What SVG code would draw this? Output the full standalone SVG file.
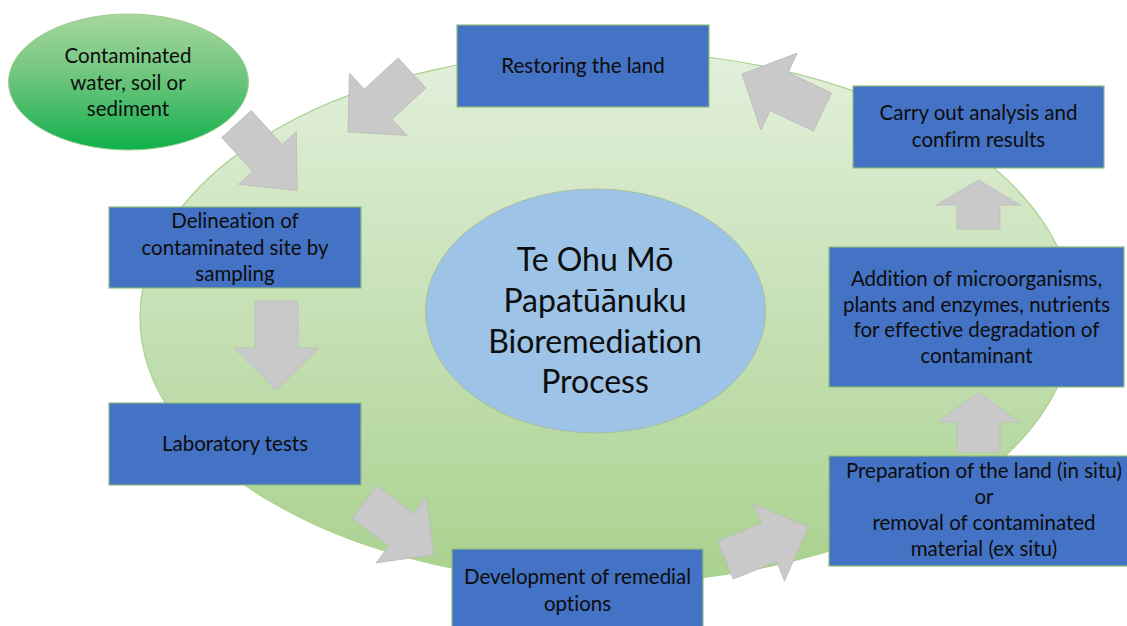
<svg xmlns="http://www.w3.org/2000/svg" width="1127" height="626" viewBox="0 0 1127 626">
<defs>
<linearGradient id="gBig" x1="0" y1="0" x2="0" y2="1">
<stop offset="0" stop-color="#e3f0dc"/>
<stop offset="1" stop-color="#a9d18e"/>
</linearGradient>
<linearGradient id="gGreen" x1="0" y1="0" x2="0" y2="1">
<stop offset="0" stop-color="#a9d69e"/>
<stop offset="0.5" stop-color="#68c47a"/>
<stop offset="1" stop-color="#0fb04c"/>
</linearGradient>
<style>
.box{fill:#4472c4;stroke:#8fbf78;stroke-width:1.2}
.arr{fill:#c9c9c9;stroke:#bcbcbc;stroke-width:0.8}
.t{font-family:Lato,"Open Sans",sans-serif;font-size:20.5px;fill:#0d0d0d;text-anchor:middle;font-variant-ligatures:none;font-feature-settings:"liga" 0}
.title{font-family:Lato,"Open Sans",sans-serif;font-size:32px;fill:#0d0d0d;text-anchor:middle;font-variant-ligatures:none;font-feature-settings:"liga" 0}
</style>
</defs>
<rect width="1127" height="626" fill="#ffffff"/>
<g id="background">
<ellipse cx="607" cy="317" rx="467" ry="266" fill="url(#gBig)" stroke="#a9d18e" stroke-width="1.2"/>
</g>
<g id="center">
<ellipse cx="595.5" cy="311" rx="170" ry="122" fill="#9dc3e6" stroke="#a8bfa0" stroke-width="1"/>
<text class="title" x="595" y="271">Te Ohu Mō</text>
<text class="title" x="595" y="312">Papatūānuku</text>
<text class="title" x="595" y="353">Bioremediation</text>
<text class="title" x="595" y="393">Process</text>
</g>
<g id="connectors">
<path class="arr" transform="translate(236.5,124) rotate(47.7)" d="M0,-20 H46 V-39 L90,0 L46,39 V20 H0Z"/>
<path class="arr" transform="translate(412,73) rotate(137.3)" d="M0,-20.5 H46 V-42.5 L87,0 L46,42.5 V20.5 H0Z"/>
<path class="arr" transform="translate(276.5,301) rotate(90)" d="M0,-21.5 H47 V-42.5 L89,0 L47,42.5 V21.5 H0Z"/>
<path class="arr" transform="translate(364.5,502) rotate(37.3)" d="M0,-20.5 H46 V-41.5 L87,0 L46,41.5 V20.5 H0Z"/>
<path class="arr" transform="translate(725.5,560) rotate(-21.8)" d="M0,-20.5 H47 V-41.5 L89,0 L47,41.5 V20.5 H0Z"/>
<path class="arr" transform="translate(822.5,112) rotate(205.3)" d="M0,-21 H48 V-42.5 L89,0 L48,42.5 V21 H0Z"/>
<path class="arr" transform="translate(978.5,229) rotate(-90)" d="M0,-21.5 H24 V-42 L49,0 L24,42 V21.5 H0Z"/>
<path class="arr" transform="translate(978.5,452) rotate(-90)" d="M0,-21.5 H30 V-41.5 L59,0 L30,41.5 V21.5 H0Z"/>
</g>
<g id="contaminated">
<ellipse cx="128.5" cy="82" rx="120" ry="68" fill="url(#gGreen)" stroke="#9ccf8e" stroke-width="1"/>
<text class="t" x="128" y="63">Contaminated</text>
<text class="t" x="128" y="90">water, soil or</text>
<text class="t" x="128" y="116">sediment</text>
</g>
<g id="delineation">
<rect class="box" x="109" y="207" width="252" height="81"/>
<text class="t" x="235" y="228">Delineation of</text>
<text class="t" x="235" y="255">contaminated site by</text>
<text class="t" x="235" y="281">sampling</text>
</g>
<g id="laboratory">
<rect class="box" x="109" y="403" width="252" height="82"/>
<text class="t" x="235" y="451">Laboratory tests</text>
</g>
<g id="development">
<rect class="box" x="452" y="549" width="251" height="85"/>
<text class="t" x="577.5" y="584">Development of remedial</text>
<text class="t" x="577.5" y="611">options</text>
</g>
<g id="preparation">
<rect class="box" x="829" y="456" width="310" height="110"/>
<text class="t" x="984" y="478">Preparation of the land (in situ)</text>
<text class="t" x="984" y="504">or</text>
<text class="t" x="984" y="530">removal of contaminated</text>
<text class="t" x="984" y="556">material (ex situ)</text>
</g>
<g id="addition">
<rect class="box" x="829" y="247" width="295" height="140"/>
<text class="t" x="976.5" y="286">Addition of microorganisms,</text>
<text class="t" x="976.5" y="312">plants and enzymes, nutrients</text>
<text class="t" x="976.5" y="337">for effective degradation of</text>
<text class="t" x="976.5" y="363">contaminant</text>
</g>
<g id="carry-out">
<rect class="box" x="853" y="86" width="251" height="82"/>
<text class="t" x="978.5" y="120">Carry out analysis and</text>
<text class="t" x="978.5" y="147">confirm results</text>
</g>
<g id="restoring">
<rect class="box" x="457" y="25" width="252" height="82"/>
<text class="t" x="583" y="73">Restoring the land</text>
</g>
</svg>
